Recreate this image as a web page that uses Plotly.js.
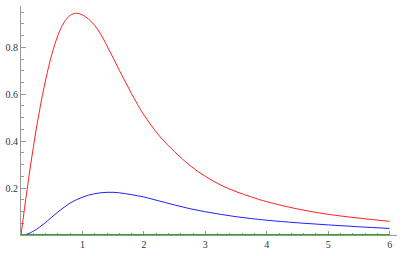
<!DOCTYPE html>
<html>
<head>
<meta charset="utf-8">
<script src="https://cdn.plot.ly/plotly-3.0.1.min.js"></script>
<style>html,body{margin:0;padding:0;background:#fff;}#chart{width:410px;height:256px;}</style>
</head>
<body>
<div id="chart"></div>
<script>
// Values
const redX = [0, 0.1, 0.2, 0.3, 0.4, 0.5, 0.6, 0.7, 0.8, 0.9, 1.0, 1.1, 1.2, 1.3, 1.4, 1.5, 1.6, 1.7, 1.8, 1.9, 2.0, 2.25, 2.5, 2.75, 3.0, 3.25, 3.5, 3.75, 4.0, 4.5, 5.0, 5.5, 6.0];
const redY = [0, 0.195, 0.373, 0.528, 0.66, 0.768, 0.85, 0.906, 0.936, 0.945, 0.938, 0.92, 0.893, 0.855, 0.806, 0.755, 0.702, 0.652, 0.602, 0.555, 0.512, 0.423, 0.355, 0.296, 0.25, 0.213, 0.185, 0.162, 0.142, 0.111, 0.088, 0.072, 0.058];
const blueX = [0, 0.1, 0.2, 0.3, 0.4, 0.5, 0.6, 0.7, 0.8, 0.9, 1.0, 1.1, 1.2, 1.3, 1.4, 1.5, 1.6, 1.7, 1.8, 1.9, 2.0, 2.25, 2.5, 2.75, 3.0, 3.25, 3.5, 3.75, 4.0, 4.5, 5.0, 5.5, 6.0];
const blueY = [0, 0.004, 0.016, 0.033, 0.053, 0.076, 0.098, 0.118, 0.136, 0.150, 0.161, 0.170, 0.176, 0.180, 0.182, 0.182, 0.180, 0.176, 0.172, 0.167, 0.162, 0.145, 0.128, 0.112, 0.099, 0.088, 0.078, 0.070, 0.063, 0.052, 0.043, 0.035, 0.028];
const greenX = [0, 1, 2, 3, 4, 5, 6];
const greenY = [0, 0, 0, 0, 0, 0, 0];
const xTicks = [1, 2, 3, 4, 5, 6];
const yTicks = [0.2, 0.4, 0.6, 0.8];
const yTickText = ["0.2", "0.4", "0.6", "0.8"];

const traces = [
  {x: redX, y: redY, mode: 'lines', line: {color: '#ff2020', width: 1, shape: 'spline', smoothing: 1}, hoverinfo: 'skip'},
  {x: blueX, y: blueY, mode: 'lines', line: {color: '#2020ff', width: 1, shape: 'spline', smoothing: 1}, hoverinfo: 'skip'},
  {x: greenX, y: greenY, mode: 'lines', line: {color: '#22aa22', width: 2}, hoverinfo: 'skip'}
];

const tickFont = {family: 'Times New Roman, Liberation Serif, serif', size: 10, color: '#333'};

const layout = {
  width: 410, height: 256,
  margin: {l: 21, r: 13, t: 6, b: 21, pad: 0},
  paper_bgcolor: '#fff', plot_bgcolor: '#fff',
  showlegend: false,
  xaxis: {
    range: [0, 6.12], showgrid: false, zeroline: false,
    showline: true, linecolor: '#999', linewidth: 1,
    ticks: 'inside', ticklen: 4, tickcolor: '#999', tickwidth: 1,
    tickmode: 'array', tickvals: xTicks, ticktext: xTicks.map(String),
    tickfont: tickFont, layer: 'below traces',
    minor: {tickmode: 'linear', tick0: 0, dtick: 0.2, ticks: 'inside', ticklen: 2.5, tickcolor: '#999', showgrid: false}
  },
  yaxis: {
    range: [0, 0.976], showgrid: false, zeroline: false,
    showline: true, linecolor: '#999', linewidth: 1,
    ticks: 'inside', ticklen: 5, tickcolor: '#999', tickwidth: 1,
    tickmode: 'array', tickvals: yTicks, ticktext: yTickText,
    tickfont: tickFont, layer: 'below traces',
    minor: {tickmode: 'linear', tick0: 0, dtick: 0.05, ticks: 'inside', ticklen: 3, tickcolor: '#999', showgrid: false}
  }
};

Plotly.newPlot('chart', traces, layout, {staticPlot: true, displayModeBar: false});
</script>
</body>
</html>
